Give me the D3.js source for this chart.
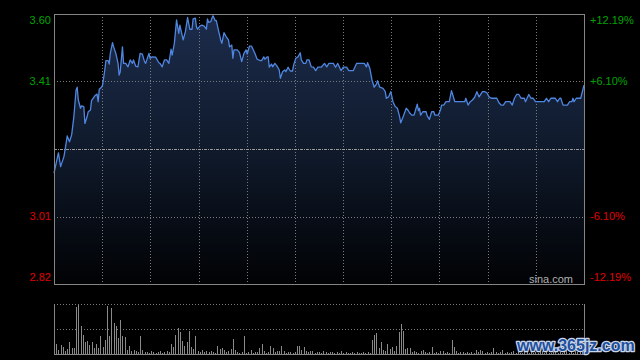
<!DOCTYPE html>
<html><head><meta charset="utf-8">
<script src="https://cdn.jsdelivr.net/npm/d3@7"></script>
<style>html,body{margin:0;padding:0;background:#000;}svg{display:block;}</style>
</head><body>
<svg id="c" width="640" height="360"></svg>
<script>
// ---- data ----
const minutes = [
0,2,3,4.5,5,6,7,8,9,10,
10.5,11,12,12.5,13.5,14,15,15.5,16.5,17,
18.5,19.5,20,20.5,21.5,22,23,23.5,24.5,25,
25.5,26.5,27,28,29,29.5,30,31,31.5,32.5,
33.5,34.5,35.5,36,37,38,39,40,41,41.5,
43,43.5,44.5,46,47.5,48,49,50,51,52,
53,53.5,54.5,55.5,56,56.5,57,58,58.5,59.5,
60.5,61.5,62.5,63,64,64.5,65,66,67,68,
69,69.5,70,71,71.5,72,73,73.5,74.5,75.5,
76,77,78,79,79.5,80.5,81,81.5,83,84,
85,86,87,87.5,88.5,89.5,91,92,93.5,94,
95,95.5,96.5,97,97.5,98.5,99,100,101,102,
102.5,103.5,104.5,105,106,107,108,108.5,109.5,110.5,
111.5,112,113,114,114.5,115.5,116.5,117.5,118.5,119.5,
121,122.5,123.5,124.5,126.5,127.5,128.5,130,131,132.5,
133.5,135.5,137,138.5,140.5,141.5,142,143,144,145,
146,146.5,147.5,149,150,150.5,151.5,152.5,153.5,154.5,
155.5,156.5,157,158,159.5,160.5,161,162,163,163.5,
164.5,165,165.5,166,167,168.5,169,170,171,172,
172.5,174,175,175.5,176.5,177.5,179,180,181.5,183.5,
186,186.5,187.5,188.5,189.5,190.5,191.5,192.5,194,195,
196,197,198,200.5,201.5,202.5,203.5,204.5,206.5,207.5,
208.5,209.5,210.5,211.5,213,213.5,215,216,217,218,
222,223,224,225,227,228,229,229.5,230.5,232.5,
233.5,234.5,235,235.5,236.5,238.5,240
];
const prices = [
3.139,3.198,3.158,3.187,3.206,3.247,3.230,3.250,3.303,3.380,
3.388,3.351,3.327,3.334,3.332,3.283,3.303,3.317,3.322,3.349,
3.363,3.368,3.346,3.382,3.388,3.394,3.438,3.465,3.465,3.455,
3.486,3.517,3.505,3.486,3.457,3.423,3.433,3.505,3.457,3.457,
3.447,3.467,3.457,3.467,3.449,3.447,3.486,3.484,3.462,3.457,
3.486,3.472,3.476,3.475,3.459,3.457,3.447,3.467,3.467,3.457,
3.498,3.481,3.515,3.583,3.563,3.544,3.568,3.539,3.525,3.549,
3.590,3.556,3.556,3.586,3.588,3.563,3.556,3.565,3.568,3.565,
3.556,3.586,3.576,3.578,3.588,3.595,3.581,3.581,3.552,3.525,
3.515,3.546,3.534,3.525,3.505,3.510,3.472,3.496,3.496,3.488,
3.462,3.486,3.496,3.484,3.507,3.507,3.486,3.469,3.465,3.465,
3.476,3.469,3.476,3.476,3.446,3.455,3.447,3.457,3.449,3.438,
3.414,3.433,3.438,3.433,3.446,3.435,3.435,3.452,3.472,3.476,
3.488,3.467,3.457,3.457,3.467,3.467,3.447,3.446,3.436,3.446,
3.446,3.457,3.447,3.457,3.457,3.446,3.457,3.436,3.446,3.446,
3.436,3.436,3.457,3.457,3.457,3.447,3.459,3.443,3.409,3.388,
3.397,3.407,3.388,3.385,3.375,3.356,3.360,3.375,3.346,3.332,
3.327,3.303,3.285,3.301,3.327,3.320,3.314,3.307,3.307,3.317,
3.339,3.320,3.327,3.307,3.317,3.317,3.305,3.295,3.317,3.317,
3.307,3.307,3.322,3.336,3.336,3.346,3.346,3.378,3.346,3.346,
3.346,3.356,3.336,3.346,3.351,3.359,3.375,3.360,3.375,3.375,
3.372,3.360,3.356,3.356,3.343,3.336,3.336,3.346,3.346,3.336,
3.356,3.367,3.367,3.356,3.356,3.346,3.367,3.356,3.356,3.346,
3.346,3.356,3.346,3.356,3.356,3.346,3.356,3.356,3.336,3.336,
3.346,3.346,3.356,3.346,3.356,3.356,3.394
];
// volume per minute (0..240)
const volumes = [
14,10,4,9,7,3,5,12,6,6,
47,49,28,19,12,13,9,12,6,10,
6,18,7,14,48,18,46,31,28,16,
34,18,17,4,8,3,4,3,2,18,
4,2,2,1,3,2,1,2,3,1,
2,3,2,10,7,19,26,22,13,8,
12,23,7,5,18,3,2,4,2,3,
2,3,2,1,8,5,6,4,2,3,
5,15,4,2,1,2,18,1,2,4,
1,2,2,6,10,3,1,2,8,6,
2,3,3,8,3,1,2,2,1,2,
8,8,4,7,3,2,3,3,1,2,
2,1,3,2,1,2,2,1,2,1,
3,1,2,1,1,2,1,2,1,1,
2,1,2,1,14,19,21,6,12,4,
3,10,5,7,3,8,22,30,23,5,
6,6,2,3,2,1,3,4,2,1,
2,7,1,2,1,3,3,1,2,1,
14,7,3,1,2,2,1,2,1,2,
1,4,2,4,3,1,2,1,2,6,
2,1,2,4,1,2,1,2,3,1,
2,1,1,2,3,1,2,1,2,1,
2,3,1,2,1,1,2,3,1,2,
1,2,3,1,2,1,3,2,4,2,3
];
const prevClose = 3.209;
const labelPcts = [0.1219, 0.061, -0.061, -0.1219];
const leftLabels = ["3.60", "3.41", "3.01", "2.82"];
const rightLabels = ["+12.19%", "+6.10%", "-6.10%", "-12.19%"];
const gridColumns = 11;
const volMax = 50;

// ---- layout ----
const L = 54, R = 584, T = 14, B = 284;
const VT = 304, VB = 354;
const svg = d3.select("#c");
const x = d3.scaleLinear().domain([0, 240]).range([L, R]);
const y = d3.scaleLinear().domain([prevClose * (1 - 0.1219), prevClose * (1 + 0.1219)]).range([B, T]);
const yv = d3.scaleLinear().domain([0, volMax]).range([VB, VT]);

const defs = svg.append("defs");
const grad = defs.append("linearGradient").attr("id", "ag")
  .attr("gradientUnits", "userSpaceOnUse").attr("x1", 0).attr("x2", 0).attr("y1", T).attr("y2", B);
grad.append("stop").attr("offset", "0%").attr("stop-color", "#1c2c4c");
grad.append("stop").attr("offset", "55%").attr("stop-color", "#0e1828");
grad.append("stop").attr("offset", "100%").attr("stop-color", "#010204");

const pts = minutes.map((m, i) => ({ m, p: prices[i] }));

// area
svg.append("path").datum(pts)
  .attr("d", d3.area().x(d => x(d.m)).y0(B).y1(d => y(d.p)))
  .attr("fill", "url(#ag)");

// grid
const g = svg.append("g").attr("shape-rendering", "crispEdges");
d3.range(1, gridColumns).forEach(k => {
  const xx = Math.round(x(240 * k / gridColumns)) + 0.5;
  g.append("line").attr("x1", xx).attr("x2", xx).attr("y1", T).attr("y2", B)
    .attr("stroke", "#7a7a7a").attr("stroke-dasharray", "1,2");
});
[0.061, -0.061].forEach(p => {
  const yy = Math.round(y(prevClose * (1 + p))) + 0.5;
  g.append("line").attr("x1", L).attr("x2", R).attr("y1", yy).attr("y2", yy)
    .attr("stroke", "#7a7a7a").attr("stroke-dasharray", "1,2");
});
{
  const yy = Math.round(y(prevClose)) + 0.5;
  g.append("line").attr("x1", L).attr("x2", R).attr("y1", yy).attr("y2", yy)
    .attr("stroke", "#9a9a9a").attr("stroke-dasharray", "3,1,1,1");
}

// line
svg.append("path").datum(pts)
  .attr("d", d3.line().x(d => x(d.m)).y(d => y(d.p)))
  .attr("fill", "none").attr("stroke", "#4f86e0").attr("stroke-width", 1.3)
  .attr("stroke-linejoin", "round");

// frame
const f = svg.append("g").attr("shape-rendering", "crispEdges").attr("stroke", "#858585");
f.append("line").attr("x1", L).attr("x2", R + 1).attr("y1", T + 0.5).attr("y2", T + 0.5);
f.append("line").attr("x1", L).attr("x2", R + 1).attr("y1", B + 0.5).attr("y2", B + 0.5);
f.append("line").attr("x1", L + 0.5).attr("x2", L + 0.5).attr("y1", T).attr("y2", B + 1);
f.append("line").attr("x1", R + 0.5).attr("x2", R + 0.5).attr("y1", T).attr("y2", B + 1);

// volume panel
const vg = svg.append("g").attr("shape-rendering", "crispEdges");
[VT, (VT + VB) / 2].forEach(yy => {
  vg.append("line").attr("x1", L).attr("x2", R).attr("y1", Math.round(yy) + 0.5).attr("y2", Math.round(yy) + 0.5)
    .attr("stroke", "#7a7a7a").attr("stroke-dasharray", "1,2");
});
vg.selectAll("rect.v").data(volumes).join("rect").attr("class", "v")
  .attr("x", (d, i) => Math.round(x(i)))
  .attr("width", 1)
  .attr("y", d => yv(d))
  .attr("height", d => VB - yv(d))
  .attr("fill", "#8a8a8a");
vg.append("line").attr("x1", L + 0.5).attr("x2", L + 0.5).attr("y1", VT).attr("y2", VB + 1).attr("stroke", "#858585");
vg.append("line").attr("x1", R + 0.5).attr("x2", R + 0.5).attr("y1", VT).attr("y2", VB + 1).attr("stroke", "#858585");
vg.append("line").attr("x1", L).attr("x2", R + 1).attr("y1", VB + 0.5).attr("y2", VB + 0.5).attr("stroke", "#858585");

// labels
const font = "'Liberation Sans', Arial, sans-serif";
labelPcts.forEach((p, i) => {
  const yy = Math.max(T + 6, Math.min(B - 7, y(prevClose * (1 + p))));
  const col = p > 0 ? "#00a400" : "#e00000";
  svg.append("text").attr("x", 51).attr("y", yy).attr("dy", "0.35em")
    .attr("text-anchor", "end").attr("font-family", font).attr("font-size", 11)
    .attr("fill", col).text(leftLabels[i]);
  svg.append("text").attr("x", 590).attr("y", yy).attr("dy", "0.35em")
    .attr("text-anchor", "start").attr("font-family", font).attr("font-size", 11)
    .attr("fill", col).text(rightLabels[i]);
});
svg.append("text").attr("x", 573).attr("y", 279).attr("dy", "0.35em")
  .attr("text-anchor", "end").attr("font-family", font).attr("font-size", 11)
  .attr("fill", "#b0b0b0").text("sina.com");

// watermark
svg.append("text").attr("x", 517).attr("y", 351)
  .attr("font-family", font).attr("font-size", 16).attr("font-weight", "bold")
  .attr("fill", "#1f4f9c").attr("stroke", "#c9d6ea").attr("stroke-width", 2.5)
  .attr("paint-order", "stroke").attr("stroke-linejoin", "round")
  .text("www.365jz.com");
</script>
</body></html>
